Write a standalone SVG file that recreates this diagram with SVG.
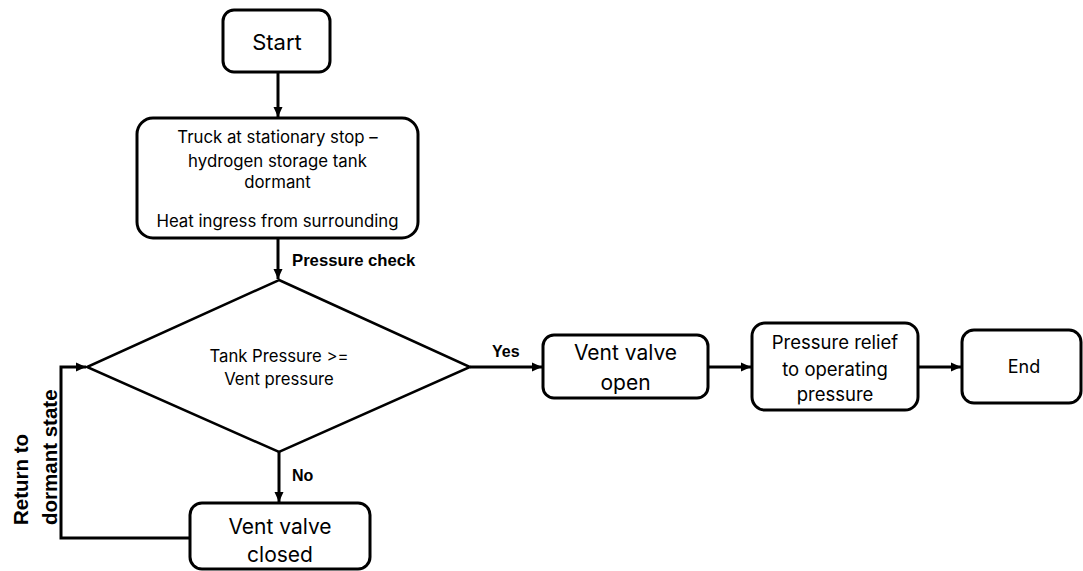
<svg xmlns="http://www.w3.org/2000/svg" width="1083" height="571" viewBox="0 0 1083 571">
<style>
.box{fill:#fff;stroke:#000;stroke-width:3}
.dia{fill:#fff;stroke:#000;stroke-width:2.5;stroke-linejoin:miter}
.edge{fill:none;stroke:#000;stroke-width:3}
.t{font-family:Inter,"Noto Sans","Liberation Sans",sans-serif;fill:#000;text-anchor:middle}
.big{font-size:21px}
.mid{font-size:16.8px}
.rel{font-size:18.5px}
.dt{font-size:16.7px}
.lbl{font-family:"Liberation Sans",Arial,sans-serif;font-weight:bold;font-size:16px;fill:#000}
.vert{font-size:20.5px}
</style>
<defs>
<marker id="ah" markerUnits="userSpaceOnUse" markerWidth="10" markerHeight="10" viewBox="0 0 10 10" refX="10" refY="5" orient="auto">
<path d="M0,0.5 L10,5 L0,9.5 Z" fill="#000"/>
</marker>
</defs>
<rect width="1083" height="571" fill="#fff"/>
<g id="connectors">
<line class="edge" x1="278" y1="72" x2="278" y2="117" marker-end="url(#ah)"/>
<line class="edge" x1="278" y1="238" x2="278" y2="279" marker-end="url(#ah)"/>
<line class="edge" x1="279" y1="452" x2="279" y2="502" marker-end="url(#ah)"/>
<polyline class="edge" points="190,538 61,538 61,367 86,367" marker-end="url(#ah)"/>
<line class="edge" x1="470" y1="367" x2="542" y2="367" marker-end="url(#ah)"/>
<line class="edge" x1="708" y1="367" x2="751" y2="367" marker-end="url(#ah)"/>
<line class="edge" x1="918" y1="367" x2="961" y2="367" marker-end="url(#ah)"/>
<text class="lbl" style="font-size:16.7px" x="292" y="266">Pressure check</text>
<text class="lbl" x="492" y="357">Yes</text>
<text class="lbl" x="292" y="481">No</text>
<text class="lbl vert" transform="translate(28,525) rotate(-90)">Return to</text>
<text class="lbl vert" transform="translate(56.5,525) rotate(-90)">dormant state</text>
</g>
<g id="start">
<rect class="box" x="223" y="10" width="107" height="62" rx="11"/>
<text class="t" style="font-size:22px" x="277" y="50">Start</text>
</g>
<g id="dormant">
<rect class="box" x="137" y="118" width="281" height="120" rx="16"/>
<text class="t mid" x="277.5" y="143">Truck at stationary stop –</text>
<text class="t mid" x="277.5" y="167">hydrogen storage tank</text>
<text class="t mid" x="277.5" y="188">dormant</text>
<text class="t mid" x="277.5" y="227">Heat ingress from surrounding</text>
</g>
<g id="decision">
<polygon class="dia" points="279,280 470,367 279,452 87,367"/>
<text class="t dt" x="279" y="362">Tank Pressure &gt;=</text>
<text class="t dt" x="279" y="385">Vent pressure</text>
</g>
<g id="vent-open">
<rect class="box" x="543" y="335" width="165" height="63" rx="11"/>
<text class="t big" x="625.5" y="360">Vent valve</text>
<text class="t big" x="625.5" y="390">open</text>
</g>
<g id="relief">
<rect class="box" x="752" y="323" width="166" height="87" rx="13"/>
<text class="t rel" x="835" y="349">Pressure relief</text>
<text class="t rel" x="835" y="376">to operating</text>
<text class="t rel" x="835" y="401">pressure</text>
</g>
<g id="end">
<rect class="box" x="962" y="330" width="119" height="73" rx="12"/>
<text class="t" style="font-size:18px" x="1024" y="373">End</text>
</g>
<g id="vent-closed">
<rect class="box" x="190" y="503" width="180" height="66" rx="12"/>
<text class="t big" x="280" y="534">Vent valve</text>
<text class="t big" x="280" y="562">closed</text>
</g>
</svg>
